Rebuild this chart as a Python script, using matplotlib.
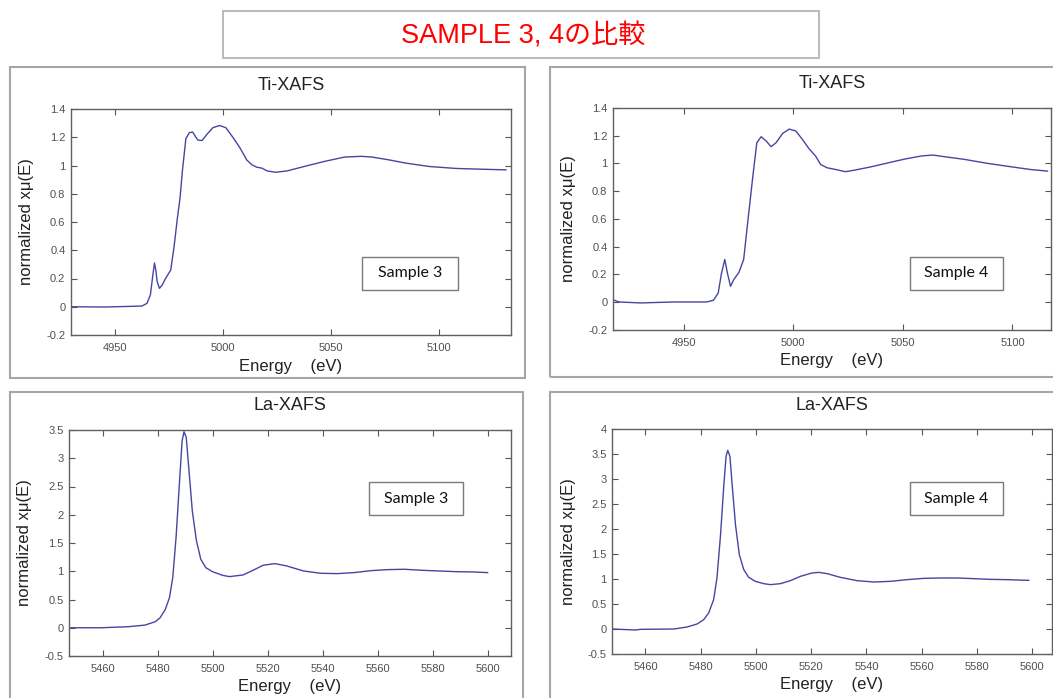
import matplotlib
matplotlib.use("Agg")
import matplotlib.pyplot as plt
from matplotlib.patches import Rectangle
from matplotlib.ticker import FormatStrFormatter, FuncFormatter

# ---- data ----
ti_s3_energy = [4930.5, 4945, 4962.5, 4964.8, 4966.4, 4967.5, 4968.3, 4969.0, 4969.5, 4970.6,
                4971.9, 4973.4, 4975.8, 4977.3, 4978.9, 4980.1, 4981.25, 4982.8, 4984.4, 4985.9,
                4988.3, 4990.3, 4992.5, 4995.3, 4998.4, 5001.25, 5004.7, 5007.8, 5010.9,
                5013.3, 5015.6, 5018.0, 5020.3, 5024.2, 5029.7, 5037.5, 5046.9, 5056.25,
                5064.0, 5068.75, 5076.6, 5084.4, 5095.3, 5107.8, 5118.75, 5130.8]
ti_s3_mu = [0.0, -0.002, 0.005, 0.024, 0.084, 0.22, 0.31, 0.25, 0.18, 0.13,
            0.155, 0.20, 0.26, 0.42, 0.63, 0.77, 0.97, 1.19, 1.232, 1.237,
            1.18, 1.177, 1.22, 1.268, 1.283, 1.268, 1.196, 1.125, 1.04,
            1.005, 0.988, 0.981, 0.962, 0.952, 0.962, 0.993, 1.029, 1.06,
            1.065, 1.06, 1.04, 1.017, 0.993, 0.979, 0.974, 0.969]

ti_s4_energy = [4918.4, 4920.6, 4930.4, 4945.5, 4960.5, 4963.6, 4965.8, 4967.3, 4968.8,
                4970.0, 4971.4, 4972.9, 4975.3, 4977.4, 4979.4, 4981.6, 4983.4, 4985.4,
                4987.7, 4989.9, 4992.2, 4995.2, 4998.2, 5001.2, 5004.2, 5007.2, 5010.2,
                5012.5, 5015.5, 5019.3, 5023.8, 5028.3, 5035.8, 5043.4, 5050.9, 5058.4,
                5063.7, 5069.0, 5078.0, 5088.6, 5099.1, 5108.1, 5116.0]
ti_s4_mu = [0.014, 0.002, -0.005, 0.002, 0.002, 0.014, 0.067, 0.21, 0.308,
            0.21, 0.115, 0.163, 0.217, 0.308, 0.597, 0.909, 1.15, 1.193,
            1.162, 1.121, 1.15, 1.217, 1.248, 1.234, 1.174, 1.107, 1.054,
            0.993, 0.969, 0.957, 0.941, 0.953, 0.977, 1.005, 1.032, 1.054,
            1.061, 1.049, 1.03, 1.001, 0.977, 0.957, 0.945]

la_s3_energy = [5448.4, 5459.4, 5469.2, 5475.3, 5479.0, 5480.8, 5482.7, 5484.2, 5485.4,
                5486.6, 5487.8, 5488.8, 5489.5, 5490.3, 5491.3, 5492.5, 5494.0, 5495.6,
                5497.4, 5499.8, 5503.5, 5506.0, 5510.9, 5514.6, 5518.2, 5522.5, 5526.8,
                5532.9, 5539.1, 5545.2, 5551.3, 5557.5, 5563.6, 5569.7, 5575.9, 5582.0,
                5588.1, 5594.3, 5599.8]
la_s3_mu = [0.0, 0.0, 0.018, 0.047, 0.106, 0.177, 0.325, 0.532, 0.887,
            1.597, 2.54, 3.31, 3.47, 3.37, 2.78, 2.07, 1.54, 1.21,
            1.064, 0.993, 0.928, 0.905, 0.934, 1.017, 1.106, 1.135, 1.094,
            1.005, 0.964, 0.958, 0.976, 1.011, 1.029, 1.035, 1.017, 1.005,
            0.993, 0.988, 0.976]

la_s4_energy = [5447.9, 5456.4, 5458.2, 5470.3, 5475.1, 5478.7, 5481.1, 5482.9, 5484.7,
                5485.9, 5487.2, 5488.4, 5489.2, 5489.8, 5490.6, 5491.4, 5492.6, 5494.0,
                5495.6, 5497.4, 5499.8, 5502.8, 5505.3, 5508.9, 5512.5, 5516.1, 5520.3,
                5522.8, 5525.8, 5530.6, 5536.6, 5542.7, 5548.7, 5554.7, 5560.8, 5566.8,
                5572.9, 5578.9, 5584.9, 5590.9, 5598.8]
la_s4_mu = [0.0, -0.02, -0.007, 0.0, 0.04, 0.1, 0.187, 0.32, 0.587,
            1.02, 1.887, 2.887, 3.453, 3.573, 3.453, 2.887, 2.087, 1.487,
            1.187, 1.033, 0.953, 0.907, 0.887, 0.907, 0.967, 1.053, 1.12,
            1.133, 1.107, 1.033, 0.967, 0.94, 0.953, 0.987, 1.013, 1.02,
            1.02, 1.007, 0.993, 0.987, 0.973]

ti_ticks_x = [4950, 5000, 5050, 5100]
ti_ticks_y = [-0.2, 0, 0.2, 0.4, 0.6, 0.8, 1, 1.2, 1.4]
la_ticks_x = [5460, 5480, 5500, 5520, 5540, 5560, 5580, 5600]
la3_ticks_y = [-0.5, 0, 0.5, 1, 1.5, 2, 2.5, 3, 3.5]
la4_ticks_y = [-0.5, 0, 0.5, 1, 1.5, 2, 2.5, 3, 3.5, 4]

main_title = "SAMPLE 3, 4の比較"

W, H = 1053, 698
LINE_COLOR = "#4646a2"
FRAME_COLOR = "#a6a6a6"


def fig_rect(left, right, top, bottom):
    return [left / W, 1 - bottom / H, (right - left) / W, (bottom - top) / H]


fig = plt.figure(figsize=(W / 100, H / 100), dpi=100)
fig.patch.set_facecolor("white")

# title box
fig.patches.append(Rectangle((223 / W, 1 - 58 / H), (819 - 223) / W, 47 / H,
                             transform=fig.transFigure, fill=False,
                             edgecolor="#b4b4b4", linewidth=1.3))
fig.text(523 / W, 1 - 36 / H, main_title, color="#ff0000", fontsize=19.5,
         ha="center", va="center",
         family=["Liberation Sans", "Noto Sans CJK JP", "DejaVu Sans"])

# panel frames
for (l, r, t, b) in [(10, 525, 67, 378), (550, 1060, 67, 377),
                     (10, 523, 392, 710), (550, 1060, 392, 710)]:
    fig.patches.append(Rectangle((l / W, 1 - b / H), (r - l) / W, (b - t) / H,
                                 transform=fig.transFigure, fill=False,
                                 edgecolor=FRAME_COLOR, linewidth=1.5))

panels = [
    dict(rect=(71, 511, 109, 335), x=ti_s3_energy, y=ti_s3_mu, xlim=(4929.7, 5133.1),
         ylim=(-0.2, 1.4), xt=ti_ticks_x, yt=ti_ticks_y, title="Ti-XAFS",
         sample="Sample 3", box=(362, 458, 257, 290)),
    dict(rect=(613, 1051, 108, 330), x=ti_s4_energy, y=ti_s4_mu, xlim=(4917.8, 5117.6),
         ylim=(-0.2, 1.4), xt=ti_ticks_x, yt=ti_ticks_y, title="Ti-XAFS",
         sample="Sample 4", box=(910, 1003, 257, 290)),
    dict(rect=(69, 511, 430, 656), x=la_s3_energy, y=la_s3_mu, xlim=(5447.7, 5608.3),
         ylim=(-0.5, 3.5), xt=la_ticks_x, yt=la3_ticks_y, title="La-XAFS",
         sample="Sample 3", box=(369, 463, 482, 515)),
    dict(rect=(612, 1052, 429, 654), x=la_s4_energy, y=la_s4_mu, xlim=(5447.9, 5607.2),
         ylim=(-0.5, 4.0), xt=la_ticks_x, yt=la4_ticks_y, title="La-XAFS",
         sample="Sample 4", box=(910, 1003, 482, 515)),
]

label_font = ["Liberation Sans", "DejaVu Sans"]

for p in panels:
    l, r, t, b = p["rect"]
    ax = fig.add_axes(fig_rect(l, r, t, b))
    ax.plot(p["x"], p["y"], color=LINE_COLOR, linewidth=1.0)
    ax.set_xlim(*p["xlim"])
    ax.set_ylim(*p["ylim"])
    ax.set_xticks(p["xt"])
    ax.set_yticks(p["yt"])
    ax.yaxis.set_major_formatter(FuncFormatter(lambda v, _: f"{v:g}"))
    ax.xaxis.set_major_formatter(FormatStrFormatter("%d"))
    ax.tick_params(direction="in", length=4, width=0.8, color="#555555",
                   top=True, right=True, labelsize=8, labelcolor="#505050")
    ax.tick_params(axis="x", pad=6)
    ax.tick_params(axis="y", pad=4)
    for lab in ax.get_xticklabels() + ax.get_yticklabels():
        lab.set_family(label_font)
    for s in ax.spines.values():
        s.set_color("#606060")
        s.set_linewidth(1.0)

    h_px = b - t
    w_px = r - l
    ax.set_title(p["title"], fontsize=13, family=label_font, color="#222222",
                 y=1 + 24 / h_px, va="center", pad=0)
    ax.set_ylabel("normalized xμ(E)", fontsize=12, family=label_font, color="#222222",
                  va="center")
    ax.yaxis.set_label_coords(-44 / w_px, 0.5)
    ax.set_xlabel("Energy    (eV)", fontsize=12, family=label_font, color="#222222",
                  va="center")
    ax.xaxis.set_label_coords(0.5, -31 / h_px)

    bl, br, bt, bb = p["box"]
    ax.text(((bl + br) / 2 - l) / w_px, 1 - ((bt + bb) / 2 - t) / h_px, p["sample"],
            transform=ax.transAxes, ha="center", va="center", fontsize=11.5,
            family=["Lato", "DejaVu Sans"], color="#111111")
    ax.add_patch(Rectangle(((bl - l) / w_px, 1 - (bb - t) / h_px),
                           (br - bl) / w_px, (bb - bt) / h_px,
                           transform=ax.transAxes, fill=False,
                           edgecolor="#7a7a7a", linewidth=1.0))

fig.savefig("out.png", dpi=100)
